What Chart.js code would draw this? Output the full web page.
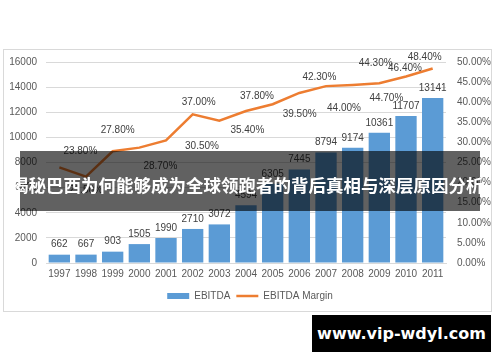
<!DOCTYPE html>
<html>
<head>
<meta charset="utf-8">
<script src="https://cdn.jsdelivr.net/npm/chart.js@4/dist/chart.umd.min.js"></script>
<style>
  html, body { margin: 0; padding: 0; background: #ffffff; }
  #wrap { position: relative; width: 500px; height: 362px; overflow: hidden; }
  #frame { position: absolute; left: 3px; top: 49px; width: 489px; height: 263px; box-sizing: border-box; border: 1px solid #d9d9d9; }
  #c { position: absolute; left: 0; top: 0; }
  #banner { position: absolute; left: 20px; top: 151px; width: 460px; height: 60px; background: rgba(0,0,0,0.62); }
  #bannerText { position: absolute; left: 11px; top: 174px; width: 490px; height: 22px; line-height: 22px; font-family: "Noto Sans CJK SC", sans-serif; font-weight: bold; font-size: 17.5px; color: #ffffff; white-space: nowrap; }
  #mark { position: absolute; left: 312px; top: 315px; width: 179px; height: 37px; background: #000000; color: #ffffff; font-family: "DejaVu Sans", sans-serif; font-weight: bold; font-size: 16px; line-height: 37px; text-align: center; }
</style>
</head>
<body>
<div id="wrap">
  <div id="frame"></div>
  <canvas id="c" width="500" height="362"></canvas>
  <div id="banner"></div>
  <div id="bannerText">揭秘巴西为何能够成为全球领跑者的背后真相与深层原因分析</div>
  <div id="mark">www.vip-wdyl.com</div>
</div>
<script>
const years = ['1997','1998','1999','2000','2001','2002','2003','2004','2005','2006','2007','2008','2009','2010','2011'];
const ebitda = [662, 667, 903, 1505, 1990, 2710, 3072, 4594, 6305, 7445, 8794, 9174, 10361, 11707, 13141];
const margin = [23.8, 21.5, 27.8, 28.7, 30.5, 37.0, 35.4, 37.8, 39.5, 42.3, 44.0, 44.3, 44.7, 46.4, 48.4];
const leftTicks = [0, 2000, 4000, 6000, 8000, 10000, 12000, 14000, 16000];
const rightTicks = [0, 5, 10, 15, 20, 25, 30, 35, 40, 45, 50];
// label offsets (pixels) of the margin labels relative to their points
const marginLabelDx = [21, 0, 5, 21, 36, 6, 28, 11, 27, 20, 18, 23, 7, -1, -8];
const marginLabelDy = [-16, 14, -21, 19, 6, -12, 10, -15, 10, -16, 22, -22, 15, -8, -11];

const FONT = '"Liberation Sans", Arial, sans-serif';
Chart.defaults.font.family = FONT;
Chart.defaults.font.size = 10;
Chart.defaults.color = '#595959';

const labelPlugin = {
  id: 'valueLabels',
  afterDatasetsDraw(chart) {
    const ctx = chart.ctx;
    ctx.save();
    ctx.font = '10px ' + FONT;
    ctx.fillStyle = '#404040';
    ctx.textAlign = 'center';
    ctx.textBaseline = 'middle';
    chart.getDatasetMeta(0).data.forEach((el, i) => {
      ctx.fillText(String(ebitda[i]), el.x, el.y - 10);
    });
    chart.getDatasetMeta(1).data.forEach((pt, i) => {
      ctx.fillText(margin[i].toFixed(2) + '%', pt.x + marginLabelDx[i], pt.y + marginLabelDy[i]);
    });
    ctx.restore();
  }
};

new Chart(document.getElementById('c'), {
  type: 'bar',
  data: {
    labels: years,
    datasets: [
      {
        type: 'bar',
        label: 'EBITDA',
        data: ebitda,
        backgroundColor: '#5b9bd5',
        borderWidth: 0,
        barPercentage: 0.8,
        categoryPercentage: 1.0,
        yAxisID: 'y',
        order: 1
      },
      {
        type: 'line',
        label: 'EBITDA Margin',
        data: margin,
        borderColor: '#ed7d31',
        backgroundColor: '#ed7d31',
        borderWidth: 2.5,
        pointRadius: 0,
        tension: 0,
        yAxisID: 'y1',
        order: 0
      }
    ]
  },
  options: {
    responsive: false,
    animation: false,
    layout: { padding: { left: 0, right: 0, top: 62, bottom: 51 } },
    scales: {
      x: {
        grid: { display: false, drawTicks: false },
        border: { display: true, color: '#d9d9d9' },
        ticks: { padding: 5, color: '#595959', font: { size: 10 }, maxRotation: 0, autoSkip: false },
        afterFit(s) { s.height = 22; }
      },
      y: {
        position: 'left',
        min: 0, max: 16000,
        afterBuildTicks(s) { s.ticks = leftTicks.map(v => ({ value: v })); },
        grid: { color: '#d9d9d9', drawTicks: false },
        border: { display: false },
        ticks: { padding: 9, color: '#595959', font: { size: 10 }, callback: v => String(v) },
        afterFit(s) { s.width = 46; }
      },
      y1: {
        position: 'right',
        min: 0, max: 50,
        afterBuildTicks(s) { s.ticks = rightTicks.map(v => ({ value: v })); },
        grid: { display: false, drawTicks: false },
        border: { display: false },
        ticks: { padding: 11, color: '#595959', font: { size: 10 }, callback: v => Number(v).toFixed(2) + '%' },
        afterFit(s) { s.width = 54; }
      }
    },
    plugins: {
      legend: {
        position: 'bottom',
        labels: {
          usePointStyle: true,
          pointStyleWidth: 22,
          boxHeight: 6,
          padding: 6,
          color: '#595959',
          font: { size: 10 },
          sort: (a, b) => a.datasetIndex - b.datasetIndex,
          generateLabels(chart) {
            return chart.data.datasets.map((ds, i) => ({
              text: ds.label,
              fillStyle: ds.type === 'bar' ? ds.backgroundColor : ds.borderColor,
              strokeStyle: ds.type === 'bar' ? ds.backgroundColor : ds.borderColor,
              lineWidth: ds.type === 'bar' ? 0 : 2.5,
              pointStyle: ds.type === 'bar' ? 'rect' : 'line',
              fontColor: '#595959',
              hidden: false,
              datasetIndex: i
            }));
          }
        }
      },
      tooltip: { enabled: false }
    }
  },
  plugins: [labelPlugin]
});
</script>
</body>
</html>
